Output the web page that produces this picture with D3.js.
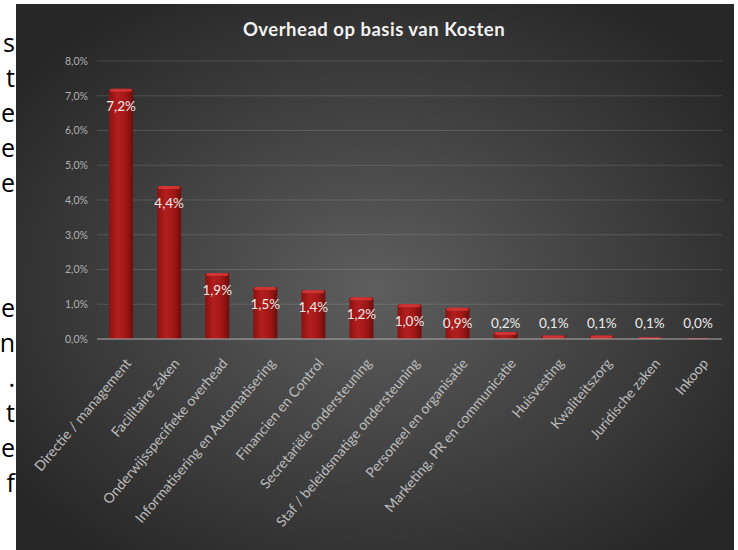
<!DOCTYPE html>
<html>
<head>
<meta charset="utf-8">
<script src="https://cdn.jsdelivr.net/npm/d3@7"></script>
<style>
  body { margin: 0; background: #ffffff; }
  svg { display: block; }
</style>
</head>
<body>
<svg id="chart" width="738" height="550"></svg>
<script>
// categories and values (percent of costs)
var categories = [
  "Directie / management",
  "Facilitaire zaken",
  "Onderwijsspecifieke overhead",
  "Informatisering en Automatisering",
  "Financien en Control",
  "Secretariële ondersteuning",
  "Staf / beleidsmatige ondersteuning",
  "Personeel en organisatie",
  "Marketing, PR en communicatie",
  "Huisvesting",
  "Kwaliteitszorg",
  "Juridische zaken",
  "Inkoop"
];
var values = [7.2, 4.4, 1.9, 1.5, 1.4, 1.2, 1.0, 0.9, 0.2, 0.1, 0.1, 0.05, 0.02];
var valueLabels = ["7,2%", "4,4%", "1,9%", "1,5%", "1,4%", "1,2%", "1,0%", "0,9%", "0,2%", "0,1%", "0,1%", "0,1%", "0,0%"];
var yTicks = [0, 1, 2, 3, 4, 5, 6, 7, 8];
var chartTitle = "Overhead op basis van Kosten";
// fragments of the surrounding document visible at the left edge
var sideLetters = ["s", "t", "e", "e", "e", "e", "n", ".", "t", "e", "f"];
var sideBaselines = [52, 87, 122, 157, 192, 317, 352, 387, 422, 457, 492];

var svg = d3.select("#chart");
var font = "Lato, 'Open Sans', sans-serif";

var defs = svg.append("defs");
var bg = defs.append("radialGradient").attr("id", "bg")
  .attr("cx", "50%").attr("cy", "52%").attr("r", "62%");
bg.append("stop").attr("offset", "0%").attr("stop-color", "#5e5e5e");
bg.append("stop").attr("offset", "100%").attr("stop-color", "#272727");

var barGrad = defs.append("linearGradient").attr("id", "bar")
  .attr("x1", "0%").attr("x2", "100%").attr("y1", "0%").attr("y2", "0%");
barGrad.append("stop").attr("offset", "0%").attr("stop-color", "#8a1212");
barGrad.append("stop").attr("offset", "35%").attr("stop-color", "#b31e1e");
barGrad.append("stop").attr("offset", "70%").attr("stop-color", "#a11818");
barGrad.append("stop").attr("offset", "100%").attr("stop-color", "#6e0c0c");

// text fragments on the white page
svg.selectAll("text.side").data(sideLetters).enter().append("text")
  .attr("class", "side")
  .attr("x", 15)
  .attr("y", function (d, i) { return sideBaselines[i]; })
  .attr("text-anchor", "end")
  .style("font-family", "'Open Sans', Lato, sans-serif")
  .style("font-size", "25px")
  .style("fill", "#000")
  .text(function (d) { return d; });

// chart background
svg.append("rect")
  .attr("x", 16).attr("y", 4)
  .attr("width", 718).attr("height", 546)
  .attr("fill", "url(#bg)");

var x = d3.scaleBand().domain(categories).range([97, 722]).paddingInner(0.5).paddingOuter(0.25);
var y = d3.scaleLinear().domain([0, 8]).range([339, 61]);

// gridlines
svg.append("g")
  .selectAll("line").data(yTicks.slice(1)).enter().append("line")
  .attr("x1", 97).attr("x2", 722)
  .attr("y1", function (d) { return y(d); })
  .attr("y2", function (d) { return y(d); })
  .attr("stroke", "rgba(255,255,255,0.13)")
  .attr("stroke-width", 1);

// y axis labels
var yAxis = svg.append("g")
  .attr("transform", "translate(88,0)")
  .call(d3.axisLeft(y).tickValues(yTicks).tickSize(0).tickPadding(0)
    .tickFormat(function (d) { return d3.format(".1f")(d).replace(".", ",") + "%"; }));
yAxis.select(".domain").remove();
yAxis.selectAll("text")
  .style("font-family", font)
  .style("font-size", "10.5px")
  .style("fill", "#b0b0b0");

// bars
var bars = svg.append("g").selectAll("g").data(values).enter().append("g");
bars.append("rect")
  .attr("x", function (d, i) { return x(categories[i]); })
  .attr("y", function (d) { return y(d); })
  .attr("width", x.bandwidth())
  .attr("height", function (d) { return y(0) - y(d); })
  .attr("rx", 1.5)
  .attr("fill", "url(#bar)");
// top bevel highlight
bars.append("rect")
  .attr("x", function (d, i) { return x(categories[i]) + 1; })
  .attr("y", function (d) { return y(d); })
  .attr("width", x.bandwidth() - 2)
  .attr("height", function (d) { return Math.min(3, y(0) - y(d)); })
  .attr("rx", 1.5)
  .attr("fill", "#d93a3a")
  .attr("opacity", 0.8);

// x axis line
svg.append("line")
  .attr("x1", 97).attr("x2", 722)
  .attr("y1", y(0)).attr("y2", y(0))
  .attr("stroke", "#b0b0b0")
  .attr("stroke-width", 1.2);

// data labels
bars.append("text")
  .attr("x", function (d, i) { return x(categories[i]) + x.bandwidth() / 2; })
  .attr("y", function (d) { return Math.min(y(d) + 17, y(0) - 16); })
  .attr("dy", "0.35em")
  .attr("text-anchor", "middle")
  .style("font-family", font)
  .style("font-size", "13.5px")
  .style("fill", "#ececec")
  .text(function (d, i) { return valueLabels[i]; });

// category labels
svg.append("g").selectAll("text").data(categories).enter().append("text")
  .attr("transform", function (d) {
    return "translate(" + (x(d) + x.bandwidth() / 2 + 3) + ",357) rotate(-50)";
  })
  .attr("dy", "0.75em")
  .attr("text-anchor", "end")
  .style("font-family", font)
  .style("font-size", "14px")
  .style("fill", "#bdbdbd")
  .text(function (d) { return d; });

// title
svg.append("text")
  .attr("x", 374).attr("y", 36)
  .attr("text-anchor", "middle")
  .style("font-family", font)
  .style("font-weight", "bold")
  .style("font-size", "18.5px")
  .style("letter-spacing", "0.5px")
  .style("fill", "#f2f2f2")
  .text(chartTitle);
</script>
</body>
</html>
